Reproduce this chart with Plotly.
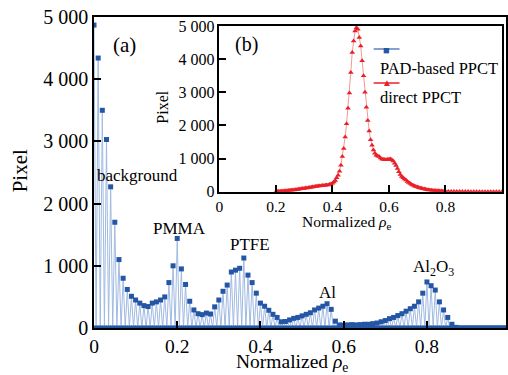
import numpy as np
import plotly.graph_objects as go

# ---------------- data ----------------
# Main panel (a): PAD-based PPCT histogram (non-empty bins, step 0.01), empty bins between
pad_x_step = 0.01
pad_values = [4870, 4340, 3500, 3030, 2270, 1700, 1100, 800, 620, 510,
              450, 400, 360, 345, 400, 420, 450, 500, 730, 1000,
              1440, 950, 700, 430, 290, 230, 215, 240, 225, 340,
              450, 590, 690, 900, 930, 960, 1125, 850, 730, 560,
              400, 350, 285, 220, 170, 100, 105, 130, 155, 170,
              195, 220, 245, 290, 320, 350, 390, 300, 110, 50,
              45, 50, 55, 50, 55, 60, 60, 70, 80, 100,
              120, 150, 170, 200, 230, 270, 310, 350, 420, 560,
              740, 680, 610, 420, 290, 170, 60, 10]
pad_tail_x_end = 0.99   # empty bins continue to the right edge

# Inset (b): direct PPCT
direct_x_fine_start, direct_x_fine_step = 0.20, 0.005
direct_values_fine = [0, 5, 10, 10, 15, 20, 20, 25, 30, 35,
                      40, 45, 50, 55, 60, 70, 75, 80, 90, 95,
                      100, 110, 115, 120, 130, 135, 140, 150, 155, 165,
                      170, 175, 180, 185, 190, 195, 200, 205, 215, 230,
                      255, 290, 340, 420, 500, 620, 800, 1065, 1300, 1650,
                      2050, 2520, 2980, 3600, 4200, 4550, 4850, 4950, 4900, 4650,
                      4400, 3950, 3500, 3000, 2550, 2150, 1830, 1570, 1400, 1260,
                      1160, 1100, 1080, 1060, 1020, 990, 975, 968, 965, 975,
                      980, 985, 965, 930, 860, 790, 700, 600, 520, 460,
                      420, 380, 350, 310, 280, 250, 215, 195, 175, 155,
                      140, 125, 112, 102, 92, 82, 72, 62, 55, 48,
                      42, 38, 33, 30, 28, 25, 20, 18, 15, 12,
                      10]
direct_x_tail_start, direct_x_tail_step = 0.81, 0.01
direct_values_tail = [8, 7, 6, 5, 4, 4, 3, 3, 2, 2, 2, 1, 1, 1, 1, 0, 0, 0, 0, 0]

y_tickvals = [0, 1000, 2000, 3000, 4000, 5000]
y_ticktext = ["0", "1 000", "2 000", "3 000", "4 000", "5 000"]
x_tickvals = [0, 0.2, 0.4, 0.6, 0.8]
x_ticktext = ["0", "0.2", "0.4", "0.6", "0.8"]

# ---------------- build series ----------------
pad_x, pad_y = [], []
for i, v in enumerate(pad_values):
    x0 = round(i * pad_x_step, 4)
    pad_x += [x0, round(x0 + pad_x_step / 2, 4)]
    pad_y += [v, 0]
xt = pad_x[-1] + 0.005
while xt <= pad_tail_x_end + 1e-9:
    pad_x.append(round(xt, 4)); pad_y.append(0)
    xt += 0.005

direct_x = [round(direct_x_fine_start + i * direct_x_fine_step, 4) for i in range(len(direct_values_fine))]
direct_x += [round(direct_x_tail_start + i * direct_x_tail_step, 4) for i in range(len(direct_values_tail))]
direct_y = direct_values_fine + direct_values_tail

# ---------------- layout geometry ----------------
W, H = 508, 375
ML, MR, MT, MB = 94, 0, 17, 47
PW, PH = W - ML - MR, H - MT - MB


def px(xp):
    return (xp - ML) / PW


def py(yp):
    return (H - MB - yp) / PH


BLUE = "rgb(36,86,165)"
LBLUE = "rgb(160,186,226)"
RED = "rgb(234,32,40)"
LRED = "rgb(244,150,150)"
FONT = "Liberation Serif"

fig = go.Figure()
fig.add_trace(go.Scatter(
    x=pad_x, y=pad_y, mode="lines+markers",
    line=dict(color=LBLUE, width=1),
    marker=dict(symbol="square", size=5, color=BLUE),
    xaxis="x", yaxis="y", showlegend=False))
fig.add_trace(go.Scatter(
    x=direct_x, y=direct_y, mode="lines+markers",
    line=dict(color=LRED, width=1),
    marker=dict(symbol="triangle-up", size=5, color=RED),
    xaxis="x2", yaxis="y2", showlegend=False))

axis_common = dict(showline=True, mirror=True, linecolor="black", linewidth=1.5,
                   ticks="inside", tickcolor="black", ticklen=7, tickwidth=1.5,
                   showgrid=False, zeroline=False)

ins_x0, ins_x1 = px(220), px(504)
ins_y0, ins_y1 = py(191.7), py(26)

fig.update_layout(
    width=W, height=H,
    margin=dict(l=ML, r=MR, t=MT, b=MB),
    paper_bgcolor="white", plot_bgcolor="white",
    font=dict(family=FONT, color="black"),
    xaxis=dict(domain=[0, 1], range=[0, 0.99], tickvals=x_tickvals, ticktext=x_ticktext,
               tickfont=dict(size=19.5), **axis_common),
    yaxis=dict(domain=[0, 1], range=[0, 5000], tickvals=y_tickvals, ticktext=y_ticktext,
               tickfont=dict(size=20), **axis_common),
    xaxis2=dict(domain=[ins_x0, ins_x1], anchor="y2", range=[0, 1], tickvals=x_tickvals,
                ticktext=x_ticktext, tickfont=dict(size=15.5), **axis_common),
    yaxis2=dict(domain=[ins_y0, ins_y1], anchor="x2", range=[0, 5000], tickvals=y_tickvals,
                ticktext=y_ticktext, tickfont=dict(size=16), **axis_common),
)

ann = []


def text(x, y, s, size, xanchor="center", angle=0, color="black", yanchor="middle"):
    ann.append(dict(x=px(x), y=py(y), xref="paper", yref="paper", text=s, showarrow=False,
                    xanchor=xanchor, yanchor=yanchor, textangle=angle,
                    font=dict(family=FONT, size=size, color=color)))


text(20, 171, "Pixel", 21, angle=-90)
text(293, 349, "Normalized <i>ρ</i><sub>e</sub>", 19.5, yanchor="top")
text(125, 45, "(a)", 21)
text(138, 175, "background", 17)
text(180, 228, "PMMA", 17)
text(251, 244, "PTFE", 17)
text(329, 292, "Al", 17)
text(435, 268, "Al<sub>2</sub>O<sub>3</sub>", 17)
text(162, 107, "Pixel", 16, angle=-90)
text(348, 211, "Normalized <i>ρ</i><sub>e</sub>", 15.5, yanchor="top")
text(247, 44, "(b)", 20)
text(379, 68, "PAD-based PPCT", 16.5, xanchor="left")
text(379, 97, "direct PPCT", 16.5, xanchor="left")
# legend symbols
text(388, 50, "■", 11, color=BLUE)
text(388, 82, "▲", 10, color=RED)
fig.update_layout(annotations=ann)

fig.update_layout(shapes=[
    dict(type="line", xref="paper", yref="paper", x0=px(375), x1=px(401), y0=py(49), y1=py(49),
         line=dict(color="rgb(90,130,200)", width=1.5)),
    dict(type="line", xref="paper", yref="paper", x0=px(375), x1=px(401), y0=py(83), y1=py(83),
         line=dict(color=RED, width=1.5)),
])

fig.write_html("out.html", config={"displayModeBar": False},
               post_script="document.body.style.margin='0';document.body.style.padding='0';")
